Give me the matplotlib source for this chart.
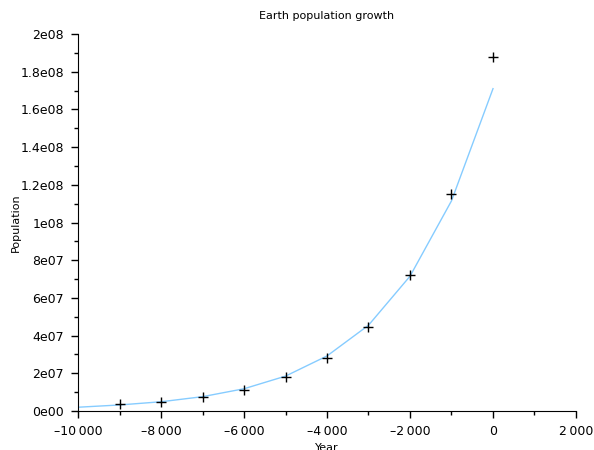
import matplotlib
matplotlib.use("Agg")
import matplotlib.pyplot as plt
from matplotlib.ticker import FuncFormatter, MultipleLocator

# observed data (markers)
years = [-9000, -8000, -7000, -6000, -5000, -4000, -3000, -2000, -1000, 0]
population = [3.5e6, 4.9e6, 7.3e6, 11.3e6, 17.9e6, 28.2e6, 44.5e6, 72.2e6, 115e6, 188e6]

# fitted curve
fit_years = [-10000, -9000, -8000, -7000, -6000, -5000, -4000, -3000, -2000, -1000, 0]
fit_population = [2.0e6, 3.2e6, 4.9e6, 7.6e6, 11.8e6, 18.5e6, 29.2e6, 45.5e6, 71.5e6, 111.5e6, 171e6]

LINE_COLOR = "#86ccff"


def x_fmt(v, pos):
    n = int(round(v))
    s = f"{abs(n):,}".replace(",", "\u2009")
    return ("\u2013" + s) if n < 0 else s


def y_fmt(v, pos):
    if v == 0:
        return "0e00"
    exp = 0
    m = v
    while abs(m) >= 10:
        m /= 10
        exp += 1
    return f"{m:g}e{exp:02d}"


fig = plt.figure(figsize=(5.94, 4.5), dpi=100)
ax = fig.add_axes([78 / 594, 39 / 450, 498 / 594, 377 / 450])

ax.plot(fit_years, fit_population, color=LINE_COLOR, lw=1.0)
ax.plot(years, population, ls="none", marker="+", color="black", ms=7, mew=1.0)

ax.set_xlim(-10000, 2000)
ax.set_ylim(0, 2e8)
ax.xaxis.set_major_locator(MultipleLocator(2000))
ax.xaxis.set_minor_locator(MultipleLocator(1000))
ax.yaxis.set_major_locator(MultipleLocator(2e7))
ax.yaxis.set_minor_locator(MultipleLocator(1e7))
ax.xaxis.set_major_formatter(FuncFormatter(x_fmt))
ax.yaxis.set_major_formatter(FuncFormatter(y_fmt))

for side in ("top", "right"):
    ax.spines[side].set_visible(False)
ax.tick_params(which="major", length=5, width=1, labelsize=9, pad=5)
ax.tick_params(which="minor", length=3, width=1)

ax.set_title("Earth population growth", fontsize=8, pad=11)
ax.set_xlabel("Year", fontsize=8)
ax.set_ylabel("Population", fontsize=8)
ax.xaxis.set_label_coords(0.5, -0.086)
ax.yaxis.set_label_coords(-0.114, 0.5)

fig.savefig("out.png", dpi=100)
